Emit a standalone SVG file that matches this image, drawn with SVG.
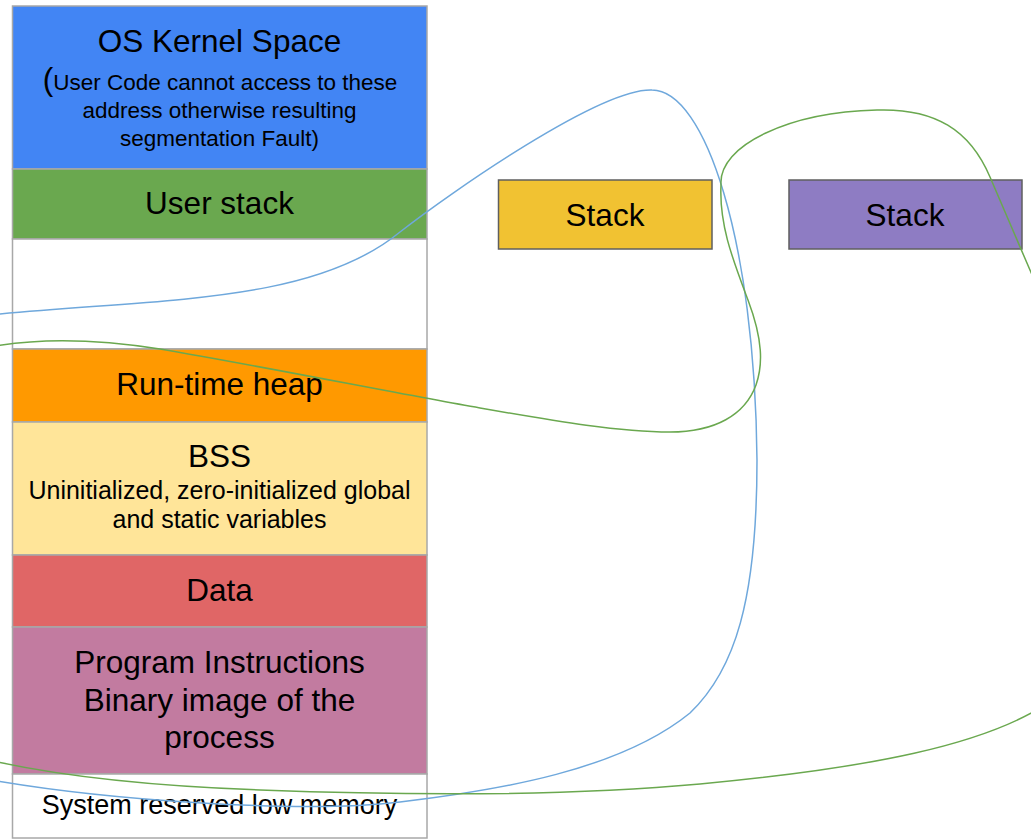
<svg xmlns="http://www.w3.org/2000/svg" width="1031" height="840" viewBox="0 0 1031 840">
  <style>
    .seg { stroke: #A8A8A8; stroke-width: 1.5; }
    .stk { stroke: #5F5F5F; stroke-width: 1.5; }
    text { font-family: "Liberation Sans", Arial, sans-serif; fill: #000; text-anchor: middle; }
    .big { font-size: 31.5px; }
    .sub { font-size: 22.5px; }
    .wire { fill: none; stroke-width: 1.5; }
  </style>
  <rect width="1031" height="840" fill="#FFFFFF"/>

  <!-- memory layout column -->
  <g id="kernel-space">
    <rect class="seg" x="12.5" y="6" width="414.5" height="163" fill="#4285F4"/>
    <text class="big" x="219.5" y="52">OS Kernel Space</text>
    <text class="sub" x="220" y="90"><tspan font-size="31.5px">(</tspan>User Code cannot access to these</text>
    <text class="sub" x="219.5" y="118">address otherwise resulting</text>
    <text class="sub" x="219.5" y="146">segmentation Fault)</text>
  </g>
  <g id="user-stack">
    <rect class="seg" x="12.5" y="169" width="414.5" height="70" fill="#6AA84F"/>
    <text class="big" x="219.5" y="214">User stack</text>
  </g>
  <g id="free-gap">
    <rect class="seg" x="12.5" y="239" width="414.5" height="110" fill="#FFFFFF"/>
  </g>
  <g id="heap">
    <rect class="seg" x="12.5" y="349" width="414.5" height="73" fill="#FF9900"/>
    <text class="big" x="219.5" y="395">Run-time heap</text>
  </g>
  <g id="bss">
    <rect class="seg" x="12.5" y="422" width="414.5" height="133" fill="#FFE599"/>
    <text class="big" x="219.5" y="467">BSS</text>
    <text x="219.5" y="499" font-size="25px">Uninitialized, zero-initialized global</text>
    <text x="219.5" y="528" font-size="25px">and static variables</text>
  </g>
  <g id="data">
    <rect class="seg" x="12.5" y="555" width="414.5" height="72" fill="#E06666"/>
    <text class="big" x="219.5" y="601">Data</text>
  </g>
  <g id="program">
    <rect class="seg" x="12.5" y="627" width="414.5" height="147" fill="#C27BA0"/>
    <text class="big" x="219.5" y="673">Program Instructions</text>
    <text class="big" x="219.5" y="711">Binary image of the</text>
    <text class="big" x="219.5" y="748">process</text>
  </g>
  <g id="reserved">
    <rect class="seg" x="12.5" y="774" width="414.5" height="64" fill="#FFFFFF"/>
    <text x="219.5" y="814" font-size="27px">System reserved low memory</text>
  </g>

  <!-- stack boxes -->
  <g id="stack-yellow">
    <rect class="stk" x="498.5" y="180" width="213.5" height="69" fill="#F1C232"/>
    <text class="big" x="605" y="226">Stack</text>
  </g>
  <g id="stack-purple">
    <rect class="stk" x="789" y="180" width="233" height="69" fill="#8E7CC3"/>
    <text class="big" x="905" y="226">Stack</text>
  </g>

  <!-- connectors -->
  <g id="connectors">
    <path class="wire" stroke="#6FA8DC" d="M -20 316 C 150 298, 310 306, 400 232 C 450 193, 600 88, 652 90 C 705 90, 755 240, 757 460 C 757 600, 735 670, 690 713 C 620 770, 500 790, 400 802 C 300 814, 100 800, -20 778"/>
    <path class="wire" stroke="#6AA84F" d="M -20 349 C 30 338, 90 338, 160 349 C 260 366, 400 394, 480 408 C 560 422, 620 432, 670 432 C 715 432, 745 415, 756 385 C 763 365, 763 340, 748 300 C 733 260, 719 225, 721 185 C 718 145, 790 112, 877 110 C 935 108, 970 130, 990 177 L 1048 312 L 1048 703 C 985 745, 870 768, 700 784 C 580 795, 420 796, 260 790 C 150 786, 50 775, -20 758"/>
  </g>
</svg>
